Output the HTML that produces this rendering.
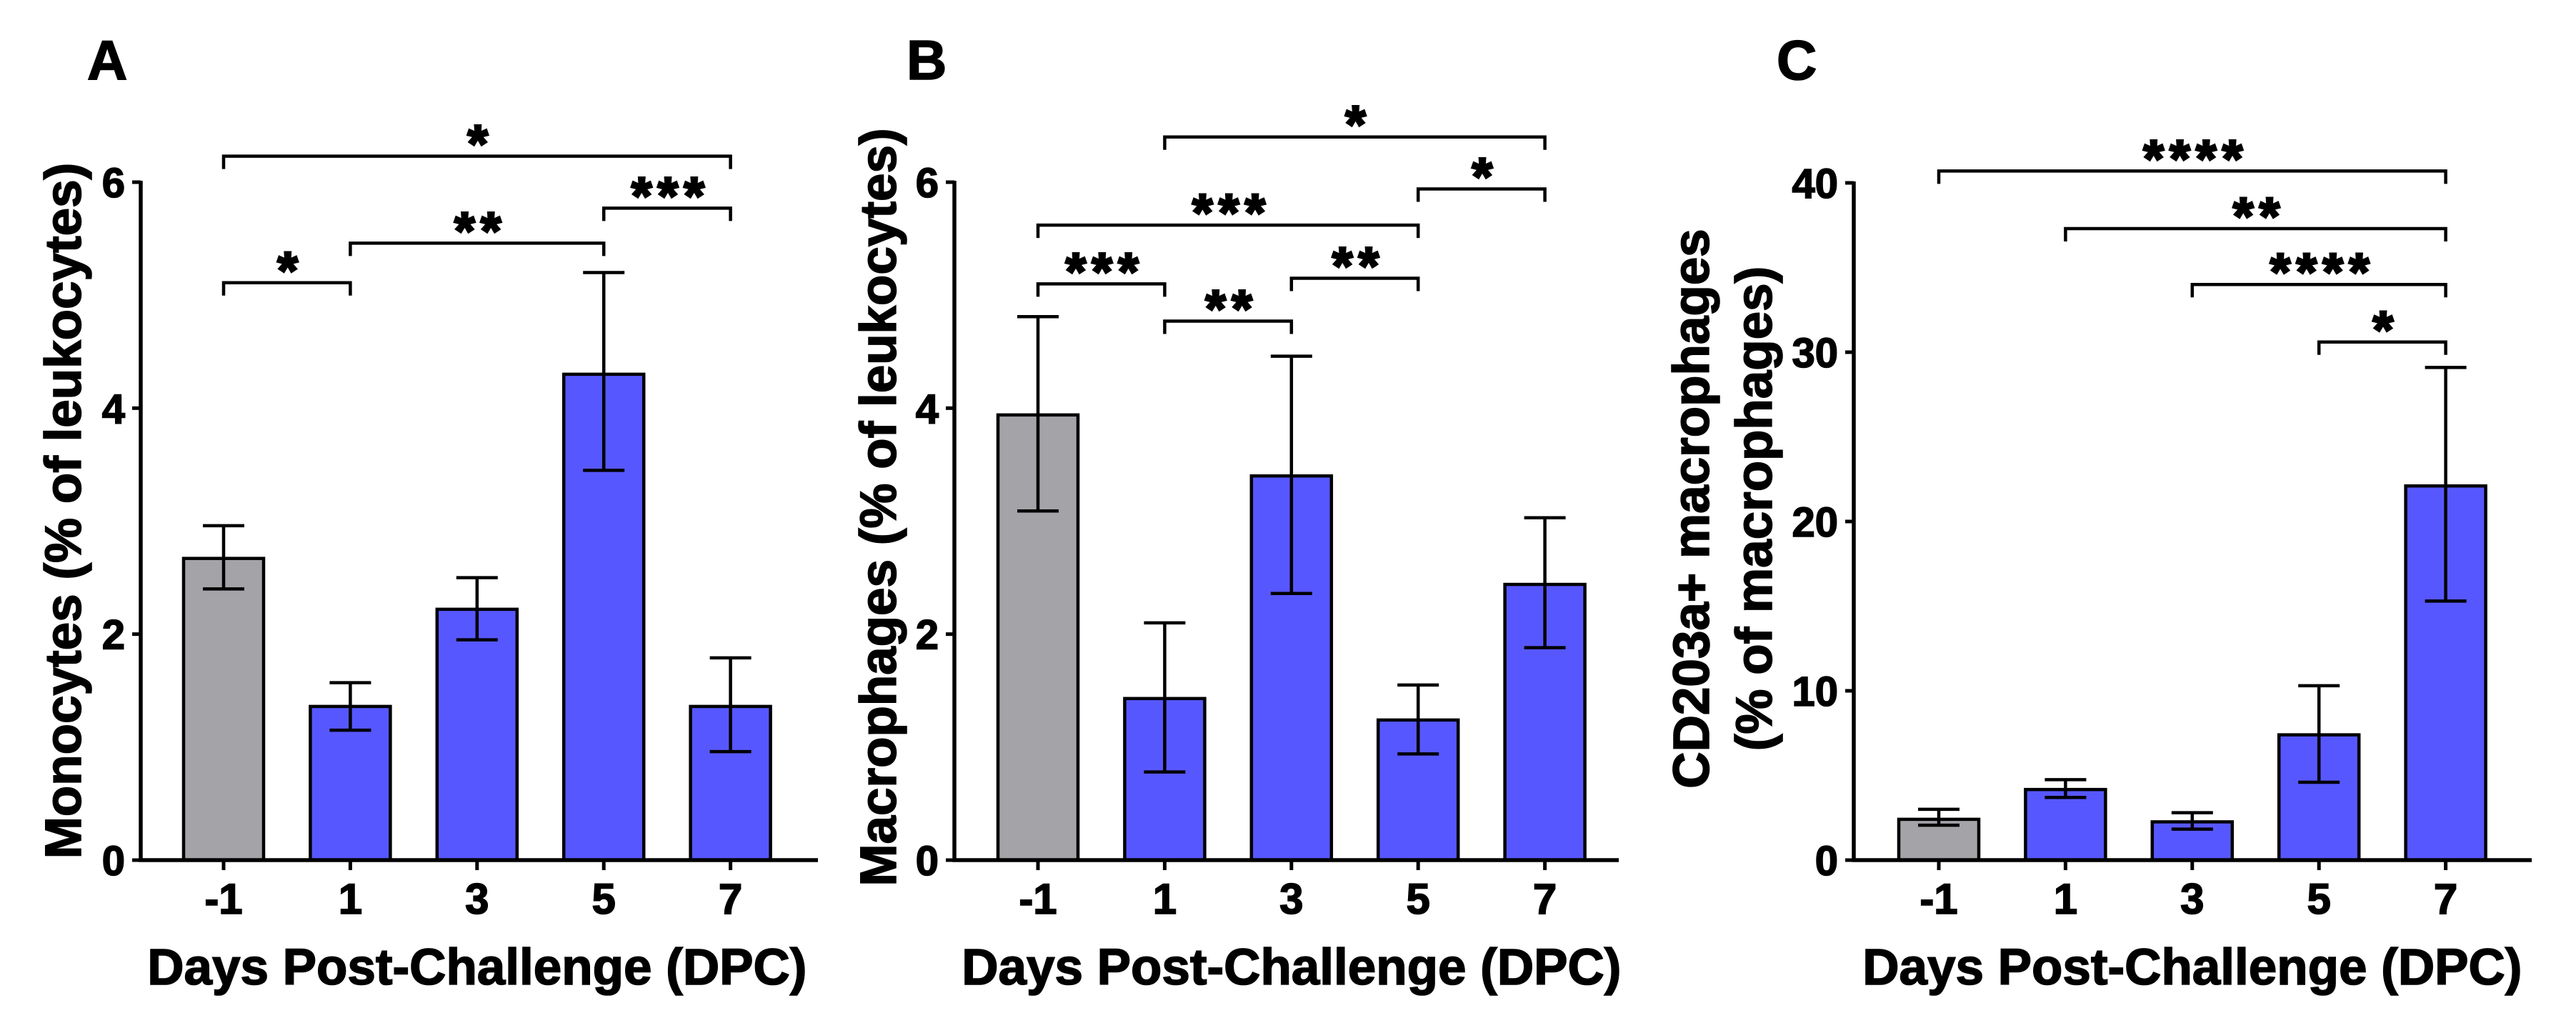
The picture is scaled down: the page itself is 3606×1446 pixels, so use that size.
<!DOCTYPE html>
<html><head><meta charset="utf-8"><style>
html,body{margin:0;padding:0;background:#fff;}
svg{display:block;font-family:"Liberation Sans",Arial,sans-serif;font-weight:bold;}
svg text{stroke:#000;stroke-width:1.6px;}
svg text.star{stroke-width:3px;}
</style></head><body>
<svg id="fig" width="3606" height="1446" viewBox="0 0 3606 1446" xmlns="http://www.w3.org/2000/svg">
<rect width="3606" height="1446" fill="#fff"/>
</svg>
<script>
const categories = ["-1","1","3","5","7"];
const monoValues = [2.67,1.36,2.22,4.30,1.36];
const monoHigh = [2.96,1.57,2.50,5.20,1.79];
const monoLow = [2.40,1.15,1.95,3.45,0.96];
const macroValues = [3.94,1.43,3.40,1.24,2.44];
const macroHigh = [4.81,2.10,4.46,1.55,3.03];
const macroLow = [3.09,0.78,2.36,0.94,1.88];
const cdValues = [2.41,4.17,2.26,7.40,22.1];
const cdHigh = [3.0,4.75,2.8,10.3,29.1];
const cdLow = [2.06,3.7,1.83,4.6,15.3];
const ticksAB = [0,2,4,6];
const ticksC = [0,10,20,30,40];
// significance brackets: [fromIndex, toIndex, level, label]
const sigA = [[0,4,6.23,"*"],[3,4,5.77,"***"],[1,3,5.46,"**"],[0,1,5.11,"*"]];
const sigB = [[1,4,6.40,"*"],[3,4,5.94,"*"],[0,3,5.62,"***"],[0,1,5.10,"***"],[2,3,5.15,"**"],[1,2,4.77,"**"]];
const sigC = [[0,4,40.7,"****"],[1,4,37.3,"**"],[2,4,34.0,"****"],[3,4,30.6,"*"]];

const NS="http://www.w3.org/2000/svg";
const svg=document.getElementById('fig');
function mk(tag,attrs,parent,txt){const e=document.createElementNS(NS,tag);for(const k in attrs)e.setAttribute(k,attrs[k]);if(txt!==undefined)e.textContent=txt;(parent||svg).appendChild(e);return e;}

function panel(cfg){
  const g=mk('g',{});
  
  
  const y0=1204, yTop=cfg.yTopPx, max=cfg.max;
  const ys=v=>y0-(v/max)*(y0-yTop);
  const xs=i=>cfg.tick0+i*177.4;
  cfg.values.forEach((v,i)=>{
    const r=mk('rect',{x:xs(i)-56,y:ys(v),width:112,height:y0-ys(v),fill:i===0?'#a4a3a8':'#5757ff',stroke:'#000','stroke-width':4.5},g);
    
    
    const eb=mk('path',{d:`M${xs(i)},${ys(cfg.high[i])}V${ys(cfg.low[i])}M${xs(i)-29},${ys(cfg.high[i])}H${xs(i)+29}M${xs(i)-29},${ys(cfg.low[i])}H${xs(i)+29}`,stroke:'#000','stroke-width':4.5,fill:'none'},g);
    
    
  });
  const ax=mk('path',{d:`M${cfg.axisX},${yTop-2}V${y0}H${cfg.axisEnd}`,stroke:'#000','stroke-width':5.5,fill:'none'},g);
  
  
  cfg.ticks.forEach(t=>{
    mk('line',{x1:cfg.axisX-12,x2:cfg.axisX,y1:ys(t),y2:ys(t),stroke:'#000','stroke-width':5},g);
    const tl=mk('text',{x:cfg.axisX-22,y:ys(t)+21,'text-anchor':'end','font-size':58},g,String(t));
    
    
  });
  categories.forEach((c,i)=>{
    mk('line',{x1:xs(i),x2:xs(i),y1:y0,y2:y0+14,stroke:'#000','stroke-width':5},g);
    const tl=mk('text',{x:xs(i),y:1279,'text-anchor':'middle','font-size':60},g,c);
    
    
  });
  cfg.sig.forEach(s=>{
    const a=xs(s[0]),b=xs(s[1]),y=ys(s[2]);
    const p=mk('path',{d:`M${a},${y+18}V${y}H${b}V${y+18}`,stroke:'#000','stroke-width':4.5,fill:'none'},g);
    
    
    const t=mk('text',{x:(a+b)/2+5,y:y+8,'text-anchor':'middle','font-size':74,'letter-spacing':8,'class':'star'},g,s[3]);
    
    
  });
  const xt=mk('text',{x:cfg.tick0+2*177.4,y:1378,'text-anchor':'middle','font-size':71},g,'Days Post-Challenge (DPC)');
  
  
  cfg.ytitle.forEach(l=>{
    const yt=mk('text',{x:l[0],y:cfg.ycy,'text-anchor':'middle','font-size':71,transform:`rotate(-90 ${l[0]} ${cfg.ycy})`},g,l[1]);
    
    
  });
  const pl=mk('text',{x:cfg.labelX,y:111,'font-size':78},g,cfg.label);
  
  
}
panel({name:'panel-a-monocytes',values:monoValues,high:monoHigh,low:monoLow,max:6,yTopPx:255,ticks:ticksAB,tick0:313,axisX:197,axisEnd:1145,sig:sigA,ytitle:[[113,'Monocytes (% of leukocytes)']],ycy:715,labelX:122,label:'A'});
panel({name:'panel-b-macrophages',values:macroValues,high:macroHigh,low:macroLow,max:6,yTopPx:255,ticks:ticksAB,tick0:1453,axisX:1336,axisEnd:2266,sig:sigB,ytitle:[[1254,'Macrophages (% of leukocytes)']],ycy:710,labelX:1269,label:'B'});
panel({name:'panel-c-cd203a',values:cdValues,high:cdHigh,low:cdLow,max:40,yTopPx:256,ticks:ticksC,tick0:2714,axisX:2595,axisEnd:3544,sig:sigC,ytitle:[[2392,'CD203a+ macrophages'],[2480,'(% of macrophages)']],ycy:712,labelX:2487,label:'C'});
</script>
</body></html>
